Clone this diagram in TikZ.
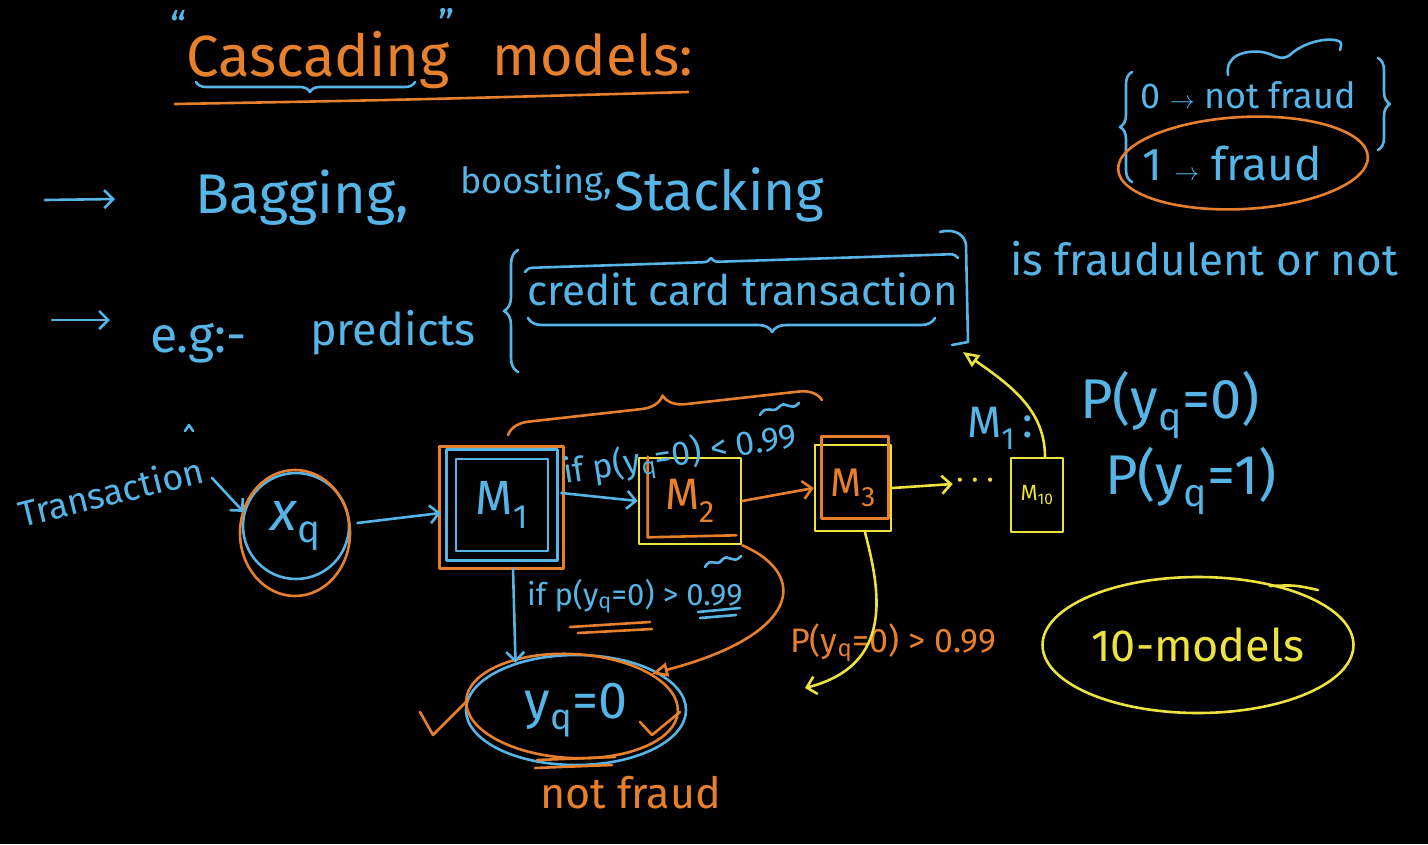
\documentclass[tikz,border=0pt]{standalone}
\usepackage{fontspec}
\setmainfont{Fira Sans}
\usetikzlibrary{arrows.meta,decorations.pathreplacing,calc,shapes.geometric}
\definecolor{cblue}{RGB}{86,180,230}
\definecolor{corange}{RGB}{230,128,45}
\definecolor{cyellow}{RGB}{236,226,64}
\newcommand{\fsz}[1]{\fontsize{#1}{#1}\selectfont}
\begin{document}
\begin{tikzpicture}[x=1pt,y=-1pt,line cap=round,line join=round,
  ink/.style={line width=2.6pt},
  bl/.style={ink,draw=cblue},
  orl/.style={ink,draw=corange},
  yl/.style={ink,draw=cyellow},
  txt/.style={inner sep=0pt,anchor=base west},
  barb/.style={-{Straight Barb[length=9pt,width=18pt,line width=2.6pt]}},
  tri/.style={-{Triangle[open,length=16pt,width=14pt,line width=2.6pt]}},
  brc/.style={decorate,decoration={brace,amplitude=#1}}]
\fill[black] (0,0) rectangle (1428,844);
\useasboundingbox (0,0) rectangle (1428,844);

% title
\node[txt,text=cblue,font=\fsz{40}] (q1) at (170,40) {“};
\node[txt,text=corange,font=\fsz{58}] (casc) at (186,76) {Cascading};
\node[txt,text=cblue,font=\fsz{40}] (q2) at (438,38) {”};
\node[txt,text=corange,font=\fsz{56}] (models) at (492,75) {models:};
\draw[bl,decorate,decoration={brace,mirror,amplitude=10pt,aspect=0.52}] (196,82) -- (415,82);
\draw[orl] (175,104) .. controls (400,100) .. (688,92);

% bullet 1
\coordinate (a1s) at (45,200); \coordinate (a1e) at (115,199);
\draw[bl,barb] (a1s) -- (a1e);
\node[txt,text=cblue,font=\fsz{56}] (bag) at (195,213) {Bagging,};
\node[txt,text=cblue,font=\fsz{36}] (boost) at (460,193) {boosting,};
\node[txt,text=cblue,font=\fsz{55}] (stack) at (614,210) {Stacking};

% bullet 2
\coordinate (a2s) at (52,320); \coordinate (a2e) at (110,320);
\draw[bl,barb] (a2s) -- (a2e);
\node[txt,text=cblue,font=\fsz{50}] (eg) at (150,352) {e.g:-};
\node[txt,text=cblue,font=\fsz{45}] (pred) at (310,345) {predicts};
\draw[bl,brc=14pt] (518,372) -- (518,250);
\node[txt,text=cblue,font=\fsz{42}] (cct) at (527,305) {credit card transaction};
\draw[bl,decorate,decoration={brace,amplitude=8pt,aspect=0.43}] (525,272) -- (958,258);
\draw[bl,decorate,decoration={brace,mirror,amplitude=14pt,aspect=0.6}] (528,318) -- (935,318);
\draw[bl] (940,232) .. controls (955,228) and (965,235) .. (966,245) -- (968,342) -- (952,345);
\coordinate (rbr) at (963,352);
\node[txt,text=cblue,font=\fsz{44}] (isf) at (1010,275) {is fraudulent or not};

% top right labels
\draw[bl,brc=12pt] (1132,182) -- (1132,72);
\node[txt,text=cblue,font=\fsz{36}] (nf) at (1140,108) {0 $\rightarrow$ not fraud};
\draw[bl] (1228,75) .. controls (1225,55) and (1245,50) .. (1262,52) .. controls (1275,54) and (1280,62) .. (1290,55) .. controls (1300,45) and (1320,38) .. (1335,40) .. controls (1342,42) .. (1340,50);
\draw[bl,brc=12pt] (1378,58) -- (1378,150);
\node[txt,text=cblue,font=\fsz{46}] (fr) at (1142,180) {1 $\rightarrow$ fraud};
\node[ellipse,draw=corange,ink,minimum width=250pt,minimum height=92pt,rotate=3] (frc) at (1243,163) {};

% transaction input
\node[txt,text=cblue,font=\fsz{36},rotate=14] (trans) at (22,528) {Transaction};
\draw[bl] (185,431) -- (189,425) -- (193,431);
\node[circle,draw=cblue,ink,minimum size=106pt,text=cblue,font=\fsz{55}] (xq) at (296,526) {\textit{x}\textsubscript{q}};
\node[ellipse,draw=corange,ink,minimum width=110pt,minimum height=126pt] (xqo) at (295,533) {};
\draw[bl,barb] ($(trans.base east)+(6,-4)$) -- (xq.165);

% M1
\node[draw=cblue,ink,minimum width=92pt,minimum height=92pt,text=cblue,font=\fsz{48}] (M1) at (502,505) {M\textsubscript{1}};
\draw[bl] ($(M1.north west)+(-8,-8)$) rectangle ($(M1.south east)+(8,8)$);
\draw[orl] ($(M1.north west)+(-15,-11)$) rectangle ($(M1.south east)+(14,16)$);
\draw[bl,barb] ($(xqo.east)+(6,-10)$) -- ($(M1.west)+(-14,8)$);

% M1 -> M2
\node[draw=cyellow,ink,minimum width=102pt,minimum height=86pt,text=corange,font=\fsz{44}] (M2) at (690,501) {M\textsubscript{2}};
\draw[orl] ($(M2.north west)+(10,0)$) -- ($(M2.south west)+(10,-8)$) -- ($(M2.south east)+(-6,-10)$);
\draw[bl,barb] ($(M1.east)+(12,-12)$) -- (M2.west);
\node[txt,text=cblue,font=\fsz{34},rotate=9] (lt) at (565,484) {if p(y\textsubscript{q}=0) < 0.99};
\draw[bl] (760,415) .. controls (767,403) and (772,415) .. (779,407) .. controls (786,399) and (790,413) .. (799,403);
\draw[orl,brc=22pt] (508,435) -- (822,400);

% M3
\node[draw=cyellow,ink,minimum width=76pt,minimum height=86pt,text=corange,font=\fsz{40}] (M3) at (853,488) {M\textsubscript{3}};
\draw[orl] ($(M3.north west)+(8,-7)$) rectangle ($(M3.south east)+(-4,-14)$);
\draw[orl,barb] (M2.east) -- (M3.west);

% dots and last model
\node[text=cyellow,font=\fsz{30}] (dotsn) at (975,484) {· · ·};
\draw[yl,barb] (M3.east) -- (dotsn.west);
\node[draw=cyellow,ink,minimum width=52pt,minimum height=74pt,text=cyellow,font=\fsz{22}] (M10) at (1037,495) {M\textsubscript{10}};
\draw[yl,tri] ($(M10.north)+(8,0)$) .. controls (1045,410) and (1010,385) .. (rbr);

% probability labels
\node[txt,text=cblue,font=\fsz{44}] (m1l) at (967,437) {M\textsubscript{1}\,:};
\node[txt,text=cblue,font=\fsz{56}] (p0) at (1080,418) {P(y\textsubscript{q}=0)};
\node[txt,text=cblue,font=\fsz{56}] (p1) at (1105,494) {P(y\textsubscript{q}=1)};

% y=0 result
\node[ellipse,draw=cblue,ink,minimum width=220pt,minimum height=110pt,text=cblue,font=\fsz{52}] (yq) at (576,710) {y\textsubscript{q}=0};
\node[ellipse,draw=corange,ink,minimum width=212pt,minimum height=104pt,rotate=-3] (yqo) at (572,706) {};
\draw[bl,barb] ($(M1.south)+(11,16)$) -- (yq.142);
\node[txt,text=cblue,font=\fsz{31}] (lb) at (527,605) {if p(y\textsubscript{q}=0) > 0.99};
\draw[bl] (705,567) .. controls (711,556) and (716,568) .. (722,560) .. controls (728,552) and (733,566) .. (741,556);
\draw[orl] (570,627) -- (650,622);
\draw[orl] (578,633) -- (652,629);
\draw[bl] (698,612) -- (740,608);
\draw[bl] (700,618) -- (736,615);
\draw[orl] (537,760) -- (615,757);
\draw[orl] (535,768) -- (612,765);
\draw[orl] (420,712) -- (433,735) -- (468,700);
\draw[orl] (640,722) -- (652,735) -- (680,712);
\node[txt,text=corange,font=\fsz{43}] (nfr) at (540,808) {not fraud};

% M2 -> y=0
\draw[orl,tri] (M2.south east) .. controls (810,575) and (800,635) .. (yqo.25);
\node[txt,text=corange,font=\fsz{34}] (po) at (790,652) {P(y\textsubscript{q}=0) > 0.99};

% M3 -> down
\coordinate (yend) at (805,688);
\draw[yl,barb] ($(M3.south)+(12,0)$) .. controls (880,590) and (895,665) .. (yend);

% 10 models
\node[ellipse,draw=cyellow,ink,minimum width=286pt,minimum height=136pt,text=cyellow,font=\fsz{45}] (ten) at (1198,645) {10-models};
\draw[yl] (1270,586) .. controls (1295,585) .. (1318,590);

\end{tikzpicture}
\end{document}
